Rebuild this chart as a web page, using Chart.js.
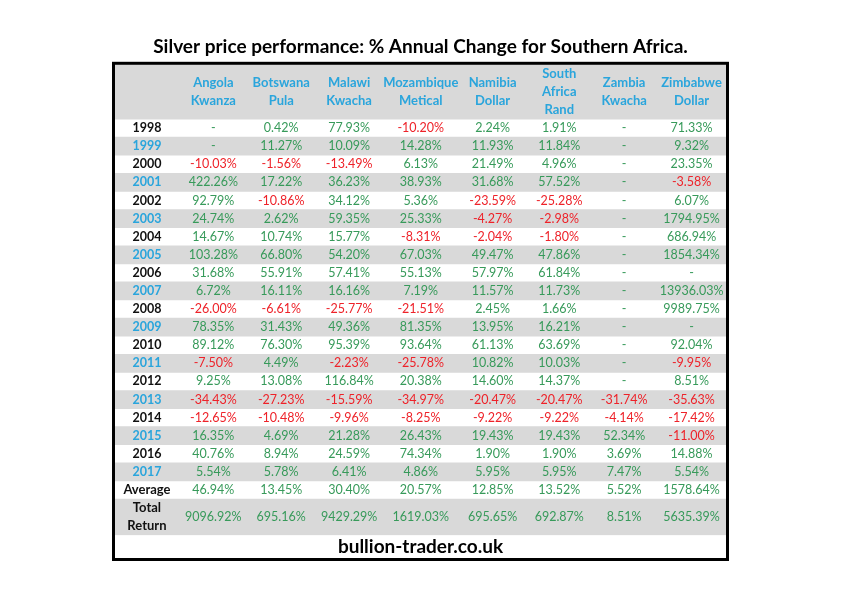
<!DOCTYPE html>
<html>
<head>
<meta charset="utf-8">
<script src="https://cdn.jsdelivr.net/npm/chart.js@4.4.1/dist/chart.umd.min.js"></script>
<style>
html,body{margin:0;padding:0;background:#ffffff;}
#wrap{width:842px;height:595px;position:relative;}
</style>
</head>
<body>
<div id="wrap"><canvas id="c"></canvas></div>
<script>
// ---------------- data ----------------
const titleText = 'Silver price performance: % Annual Change for Southern Africa.';
const sourceText = 'bullion-trader.co.uk';
const currencyLabels = [
  ['Angola', 'Kwanza'],
  ['Botswana', 'Pula'],
  ['Malawi', 'Kwacha'],
  ['Mozambique', 'Metical'],
  ['Namibia', 'Dollar'],
  ['South', 'Africa', 'Rand'],
  ['Zambia', 'Kwacha'],
  ['Zimbabwe', 'Dollar']
];
const years = ['1998','1999','2000','2001','2002','2003','2004','2005','2006','2007',
               '2008','2009','2010','2011','2012','2013','2014','2015','2016','2017'];
const angolaKwanza     = [null, null, -10.03, 422.26, 92.79, 24.74, 14.67, 103.28, 31.68, 6.72, -26.00, 78.35, 89.12, -7.50, 9.25, -34.43, -12.65, 16.35, 40.76, 5.54];
const botswanaPula     = [0.42, 11.27, -1.56, 17.22, -10.86, 2.62, 10.74, 66.80, 55.91, 16.11, -6.61, 31.43, 76.30, 4.49, 13.08, -27.23, -10.48, 4.69, 8.94, 5.78];
const malawiKwacha     = [77.93, 10.09, -13.49, 36.23, 34.12, 59.35, 15.77, 54.20, 57.41, 16.16, -25.77, 49.36, 95.39, -2.23, 116.84, -15.59, -9.96, 21.28, 24.59, 6.41];
const mozambiqueMetical= [-10.20, 14.28, 6.13, 38.93, 5.36, 25.33, -8.31, 67.03, 55.13, 7.19, -21.51, 81.35, 93.64, -25.78, 20.38, -34.97, -8.25, 26.43, 74.34, 4.86];
const namibiaDollar    = [2.24, 11.93, 21.49, 31.68, -23.59, -4.27, -2.04, 49.47, 57.97, 11.57, 2.45, 13.95, 61.13, 10.82, 14.60, -20.47, -9.22, 19.43, 1.90, 5.95];
const southAfricaRand  = [1.91, 11.84, 4.96, 57.52, -25.28, -2.98, -1.80, 47.86, 61.84, 11.73, 1.66, 16.21, 63.69, 10.03, 14.37, -20.47, -9.22, 19.43, 1.90, 5.95];
const zambiaKwacha     = [null, null, null, null, null, null, null, null, null, null, null, null, null, null, null, -31.74, -4.14, 52.34, 3.69, 7.47];
const zimbabweDollar   = [71.33, 9.32, 23.35, -3.58, 6.07, 1794.95, 686.94, 1854.34, null, 13936.03, 9989.75, null, 92.04, -9.95, 8.51, -35.63, -17.42, -11.00, 14.88, 5.54];
const averages     = [46.94, 13.45, 30.40, 20.57, 12.85, 13.52, 5.52, 1578.64];
const totalReturns = [9096.92, 695.16, 9429.29, 1619.03, 695.65, 692.87, 8.51, 5635.39];

const series = [angolaKwanza, botswanaPula, malawiKwacha, mozambiqueMetical,
                namibiaDollar, southAfricaRand, zambiaKwacha, zimbabweDollar];

// ---------------- layout / style ----------------
// relative widths of the table columns (label column first), like spreadsheet column widths
const columnWidths = [64, 69, 67, 69, 74.5, 69.5, 64, 66, 69];
const FONT = 'Lato, "Open Sans", "Noto Sans", sans-serif';
const C_GREY = '#d9d9d9';
const C_BLUE = '#2aa5dc';
const C_GREEN = '#379a5a';
const C_RED = '#ee2229';
const C_BLACK = '#111111';
const CELL_SIZE = 12.5;
const HEAD_SIZE = 13;
const LINE_GAP = 18;
const SOURCE_SIZE = 19;
const SOURCE_LH = 1.2;

const colEdges = columnWidths.reduce((acc, w) => { acc.push(acc[acc.length - 1] + w); return acc; }, [0]);
const tableWidth = colEdges[colEdges.length - 1];

// rows of the table (y categories)
const rowKeys = ['hdr1', 'hdr2', 'hdr3', ...years, 'Average', 'tot1', 'tot2'];
const greyRows = new Set(['hdr1', 'hdr2', 'hdr3', 'tot1', 'tot2',
  ...years.filter((y, i) => i % 2 === 1)]);
const bandData = rowKeys.map(k => greyRows.has(k) ? [0, tableWidth] : null);

function fmt(v) { return v === null ? '-' : v.toFixed(2) + '%'; }
function col(v) { return (v !== null && v < 0) ? C_RED : C_GREEN; }

const tablePlugin = {
  id: 'tableText',
  afterDatasetsDraw(chart) {
    const ctx = chart.ctx;
    const xs = chart.scales.x, ys = chart.scales.y;
    const cx = c => xs.getPixelForValue((colEdges[c] + colEdges[c + 1]) / 2);
    const cy = k => ys.getPixelForValue(rowKeys.indexOf(k));
    ctx.save();
    ctx.textAlign = 'center';
    ctx.textBaseline = 'middle';

    // header
    ctx.font = 'bold ' + HEAD_SIZE + 'px ' + FONT;
    ctx.fillStyle = C_BLUE;
    const hMid = (cy('hdr1') + cy('hdr3')) / 2;
    currencyLabels.forEach((lines, i) => {
      const start = hMid - (lines.length - 1) * LINE_GAP / 2;
      lines.forEach((t, j) => ctx.fillText(t, cx(i + 1), start + j * LINE_GAP));
    });

    // year rows
    years.forEach((yr, r) => {
      const y = cy(yr);
      ctx.font = 'bold ' + CELL_SIZE + 'px ' + FONT;
      ctx.fillStyle = greyRows.has(yr) ? C_BLUE : C_BLACK;
      ctx.fillText(yr, cx(0), y);
      ctx.font = CELL_SIZE + 'px ' + FONT;
      series.forEach((s, i) => {
        ctx.fillStyle = col(s[r]);
        ctx.fillText(fmt(s[r]), cx(i + 1), y);
      });
    });

    // average
    let y = cy('Average');
    ctx.font = 'bold ' + HEAD_SIZE + 'px ' + FONT;
    ctx.fillStyle = C_BLACK;
    ctx.fillText('Average', cx(0), y);
    ctx.font = CELL_SIZE + 'px ' + FONT;
    averages.forEach((v, i) => { ctx.fillStyle = col(v); ctx.fillText(fmt(v), cx(i + 1), y); });

    // total return
    y = (cy('tot1') + cy('tot2')) / 2;
    ctx.font = 'bold ' + HEAD_SIZE + 'px ' + FONT;
    ctx.fillStyle = C_BLACK;
    ctx.fillText('Total', cx(0), y - LINE_GAP / 2);
    ctx.fillText('Return', cx(0), y + LINE_GAP / 2);
    ctx.font = CELL_SIZE + 'px ' + FONT;
    totalReturns.forEach((v, i) => { ctx.fillStyle = col(v); ctx.fillText(fmt(v), cx(i + 1), y); });

    // frame around table (including the source line)
    const a = chart.chartArea;
    ctx.strokeStyle = '#000000';
    ctx.lineWidth = 3;
    ctx.strokeRect(a.left - 1.5, a.top - 1.5, (a.right - a.left) + 3,
                   (a.bottom - a.top) + SOURCE_SIZE * SOURCE_LH + 3);
    ctx.restore();
  }
};

new Chart(document.getElementById('c'), {
  type: 'bar',
  data: {
    labels: rowKeys,
    datasets: [{
      data: bandData,
      backgroundColor: C_GREY,
      borderWidth: 0,
      barPercentage: 1,
      categoryPercentage: 1
    }]
  },
  options: {
    indexAxis: 'y',
    responsive: true,
    maintainAspectRatio: false,
    animation: false,
    events: [],
    layout: { padding: { top: 34, left: 115, right: 116, bottom: 37 } },
    scales: {
      x: { type: 'linear', min: 0, max: tableWidth, display: false },
      y: { type: 'category', display: false, offset: true }
    },
    plugins: {
      legend: { display: false },
      tooltip: { enabled: false },
      title: {
        display: true,
        text: titleText,
        color: '#000000',
        font: { family: FONT, size: 19, weight: 'bold', lineHeight: 1.2 },
        padding: { top: 1, bottom: 7 }
      },
      subtitle: {
        display: true,
        position: 'bottom',
        text: sourceText,
        color: '#000000',
        font: { family: FONT, size: SOURCE_SIZE, weight: 'bold', lineHeight: SOURCE_LH },
        padding: { top: 0, bottom: 0 }
      }
    }
  },
  plugins: [tablePlugin]
});
</script>
</body>
</html>
